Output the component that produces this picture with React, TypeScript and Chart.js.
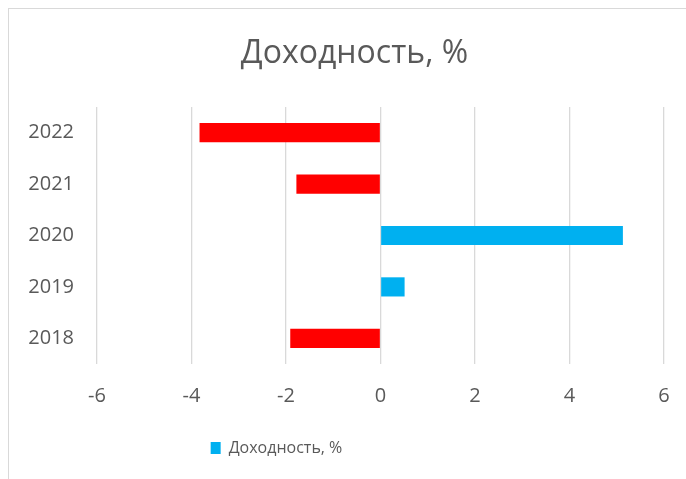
import React, { useEffect, useRef } from "react";
import { Chart, registerables } from "chart.js";

Chart.register(...registerables);

const categories = ["2022", "2021", "2020", "2019", "2018"];
const returns = [-3.83, -1.78, 5.13, 0.51, -1.91];
const seriesName = "Доходность, %";
const chartTitle = "Доходность, %";
const positiveColor = "#00B0F0";
const negativeColor = "#FF0000";
const xMin = -6;
const xMax = 6;
const xStep = 2;

const FONT = "'Open Sans', 'Noto Sans', sans-serif";
const TEXT = "#595959";
const GRID = "#D9D9D9";

const blockShift = {
  id: "blockShift",
  afterLayout(chart: any) {
    const lg = chart.legend;
    if (lg) {
      lg.left -= 60;
      lg.right -= 60;
    }
    const tb = chart.titleBlock;
    if (tb) {
      tb.left += 18;
      tb.right += 18;
    }
  },
};

export default function App() {
  const ref = useRef<HTMLCanvasElement | null>(null);

  useEffect(() => {
    if (!ref.current) return;
    const chart = new Chart(ref.current, {
      type: "bar",
      data: {
        labels: categories,
        datasets: [
          {
            label: seriesName,
            data: returns,
            backgroundColor: returns.map((v) => (v < 0 ? negativeColor : positiveColor)),
            borderWidth: 0,
            categoryPercentage: 1,
            barPercentage: 0.373,
          },
        ],
      },
      plugins: [blockShift],
      options: {
        indexAxis: "y",
        responsive: false,
        animation: false,
        layout: { padding: { left: 0, right: 22, top: 0, bottom: 13 } },
        plugins: {
          tooltip: { enabled: false },
          title: {
            display: true,
            text: chartTitle,
            color: TEXT,
            font: { family: FONT, size: 32, weight: "normal", lineHeight: 1.2 },
            padding: { top: 26, bottom: 33.6 },
          },
          legend: {
            display: true,
            position: "bottom",
            labels: {
              color: TEXT,
              font: { family: FONT, size: 16 },
              boxWidth: 10,
              boxHeight: 12,
              padding: 10,
              generateLabels: () => [
                {
                  text: seriesName,
                  fillStyle: positiveColor,
                  strokeStyle: positiveColor,
                  lineWidth: 0,
                  hidden: false,
                  datasetIndex: 0,
                  fontColor: TEXT,
                },
              ],
            },
          },
        },
        scales: {
          x: {
            type: "linear",
            min: xMin,
            max: xMax,
            ticks: {
              stepSize: xStep,
              color: TEXT,
              font: { family: FONT, size: 20 },
              padding: 0,
            },
            grid: {
              color: GRID,
              lineWidth: 1.3,
              drawTicks: true,
              tickLength: 20,
              tickColor: "rgba(0,0,0,0)",
            },
            border: { display: false },
            afterFit: (s: any) => {
              s.height = 66;
            },
          },
          y: {
            ticks: {
              color: TEXT,
              font: { family: FONT, size: 20 },
              padding: 23,
            },
            grid: { display: false, drawTicks: false },
            border: { display: false },
            afterFit: (s: any) => {
              s.width = 88;
            },
          },
        },
      },
    });
    return () => chart.destroy();
  }, []);

  return (
    <div
      style={{
        position: "absolute",
        left: 8,
        top: 8,
        borderLeft: `1px solid ${GRID}`,
        borderTop: `1px solid ${GRID}`,
        background: "#fff",
        width: 677,
        height: 470,
      }}
    >
      <canvas ref={ref} width={677} height={470} style={{ display: "block", width: 677, height: 470 }} />
    </div>
  );
}
